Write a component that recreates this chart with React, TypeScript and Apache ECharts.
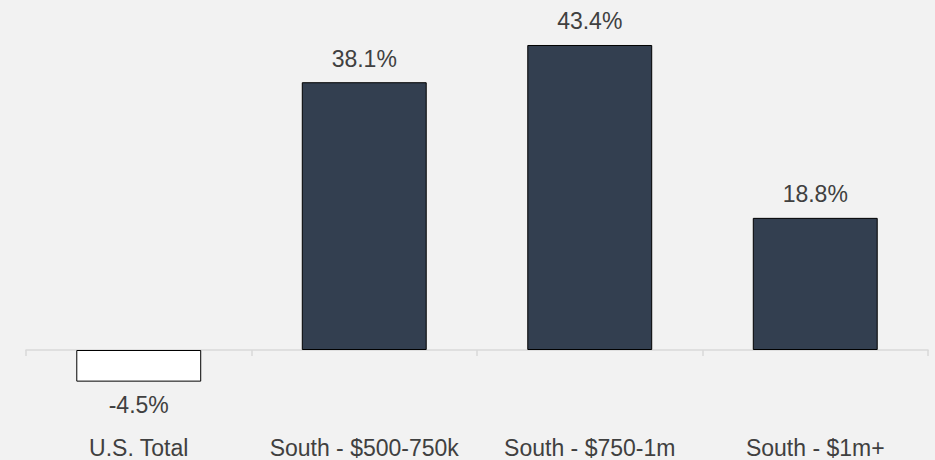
import React, { useEffect, useRef } from "react";
import * as echarts from "echarts";

const categories = ["U.S. Total", "South - $500-750k", "South - $750-1m", "South - $1m+"];
const values = [-4.5, 38.1, 43.4, 18.8];
const barColors = ["#ffffff", "#333f50", "#333f50", "#333f50"];

export default function App() {
  const ref = useRef<HTMLDivElement>(null);
  useEffect(() => {
    const chart = echarts.init(ref.current!, null, { renderer: "svg", width: 935, height: 460 });
    const font = "'Liberation Sans', Arial, sans-serif";
    chart.setOption({
      animation: false,
      backgroundColor: "#f2f2f2",
      grid: {
        left: 26,
        right: 7,
        top: 33.74,
        bottom: 74.86,
        containLabel: false,
        outerBoundsMode: "none",
      },
      xAxis: {
        type: "category",
        data: categories,
        axisLine: { show: true, onZero: true, lineStyle: { color: "#d9d9d9", width: 1.5 } },
        axisTick: { show: true, alignWithLabel: false, interval: 0, length: 6, lineStyle: { color: "#d9d9d9", width: 1.5 } },
        axisLabel: { interval: 0, margin: 51, color: "#404040", fontSize: 23, fontFamily: font },
        splitLine: { show: false },
      },
      yAxis: {
        type: "value",
        min: -5,
        max: 45,
        show: false,
        splitLine: { show: false },
      },
      series: [
        {
          type: "bar",
          barWidth: "55.4%",
          data: values.map((v, i) => ({
            value: v,
            itemStyle: { color: barColors[i], borderColor: "#000000", borderWidth: 1 },
            label: { position: v < 0 ? "bottom" : "top" },
          })),
          label: {
            show: true,
            distance: 12,
            color: "#404040",
            fontSize: 23,
            fontFamily: font,
            formatter: (p: any) => `${p.value.toFixed(1)}%`,
          },
        },
      ],
    });
    return () => chart.dispose();
  }, []);
  return (
    <div
      ref={ref}
      style={{ position: "fixed", left: 0, top: 0, width: 935, height: 460 }}
    />
  );
}
